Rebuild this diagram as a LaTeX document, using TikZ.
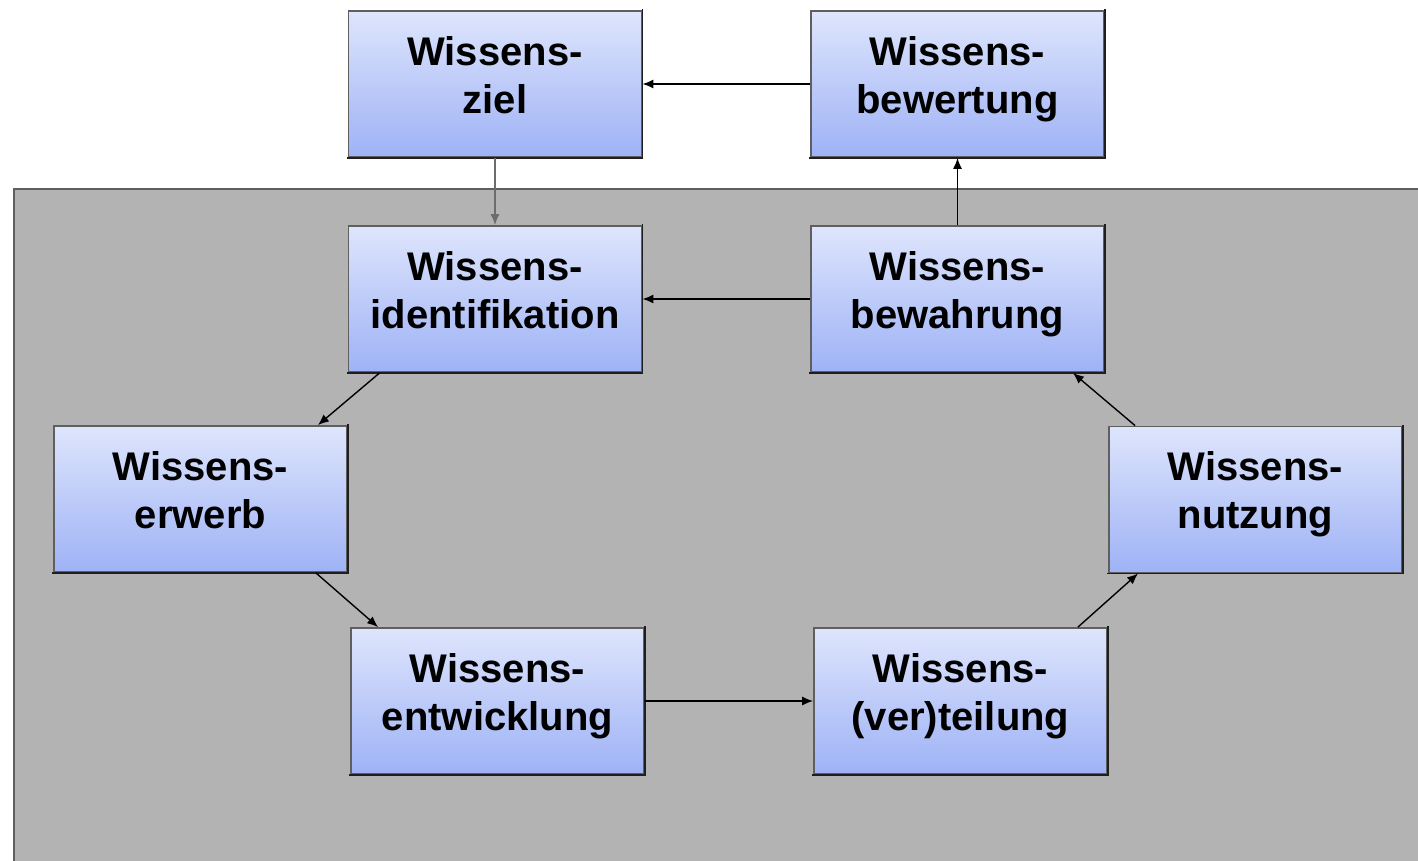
\documentclass[tikz,border=0pt]{standalone}
\usepackage{fontspec}
\setmainfont{Liberation Sans}
\usetikzlibrary{arrows.meta}
\definecolor{boxtop}{RGB}{222,229,252}
\definecolor{boxbot}{RGB}{158,178,246}
\definecolor{boxline}{RGB}{95,95,95}
\definecolor{boxdark}{RGB}{30,30,30}
\definecolor{panel}{RGB}{179,179,179}
\definecolor{panelline}{RGB}{95,95,95}
\tikzset{
  kbox/.style={draw=boxline, line width=1.8pt, top color=boxtop, bottom color=boxbot,
    minimum width=293pt, minimum height=146pt, inner sep=0pt},
  kshade/.style={draw=boxdark, line width=1.8pt, line cap=rect},
  ktxt/.style={align=center, font=\fontsize{40}{48}\selectfont\bfseries, inner sep=0pt},
  karr/.style={line width=1.4pt, -{Latex[length=11pt,width=9pt]}},
}
\newcommand{\ph}{\vphantom{Wg}}
\begin{document}
\begin{tikzpicture}[x=1pt,y=-1pt]
\clip (0,0) rectangle (1418,860);
\fill[white] (0,0) rectangle (1418,860);
\draw[fill=panel, draw=panelline, line width=2.5pt] (14,189) rectangle (1430,880);

\node[kbox] (ziel) at (495,84) {};
\node[kbox] (bewertung) at (957.5,84) {};
\node[kbox] (ident) at (495,299) {};
\node[kbox] (bewahrung) at (957.5,299) {};
\node[kbox] (erwerb) at (200.5,499) {};
\node[kbox] (nutzung) at (1255.5,499.5) {};
\node[kbox] (entw) at (497.5,701) {};
\node[kbox] (vert) at (960.5,701) {};

\foreach \n in {ziel,bewertung,ident,bewahrung,erwerb,nutzung,entw,vert}
  \draw[kshade] (\n.north east) -- (\n.south east) -- (\n.south west);

\node[ktxt] (zielT) at ([yshift=5pt]ziel.center) {Wissens-\ph\\ziel\ph};
\node[ktxt] (bewertungT) at ([yshift=5pt]bewertung.center) {Wissens-\ph\\bewertung\ph};
\node[ktxt] (identT) at ([yshift=5pt]ident.center) {Wissens-\ph\\identifikation\ph};
\node[ktxt] (bewahrungT) at ([yshift=5pt]bewahrung.center) {Wissens-\ph\\bewahrung\ph};
\node[ktxt] (erwerbT) at ([yshift=5pt]erwerb.center) {Wissens-\ph\\erwerb\ph};
\node[ktxt] (nutzungT) at ([yshift=5pt]nutzung.center) {Wissens-\ph\\nutzung\ph};
\node[ktxt] (entwT) at ([yshift=5pt]entw.center) {Wissens-\ph\\entwicklung\ph};
\node[ktxt] (vertT) at ([yshift=5pt]vert.center) {Wissens-\ph\\(ver)teilung\ph};

\draw[karr] (bewertung.west) -- (ziel.east);
\draw[karr, draw=gray!85!black, fill=black] (ziel.south) -- (ident.north);
\draw[karr] (bewahrung.north) -- (bewertung.south);
\draw[karr] (bewahrung.west) -- (ident.east);
\draw[karr] ([xshift=32pt]ident.south west) -- ([xshift=-30pt]erwerb.north east);
\draw[karr] ([xshift=-32pt]erwerb.south east) -- ([xshift=28pt]entw.north west);
\draw[karr] (entw.east) -- (vert.west);
\draw[karr] ([xshift=-30pt]vert.north east) -- ([xshift=30pt]nutzung.south west);
\draw[karr] ([xshift=27pt]nutzung.north west) -- ([xshift=-32pt]bewahrung.south east);
\end{tikzpicture}
\end{document}
